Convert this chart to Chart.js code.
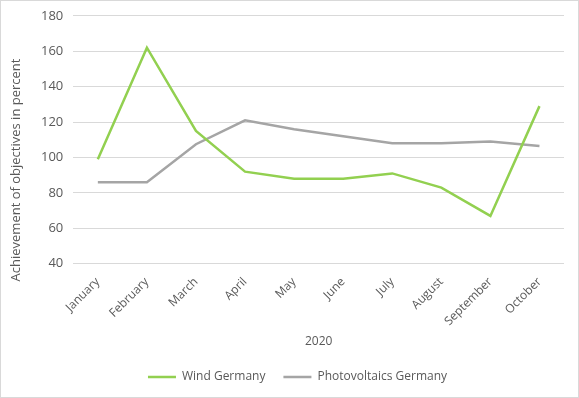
<!DOCTYPE html>
<html>
<head>
<meta charset="utf-8">
<script src="https://cdn.jsdelivr.net/npm/chart.js@4/dist/chart.umd.min.js"></script>
<style>
  html, body { margin: 0; padding: 0; background: #fff; }
  #wrap { position: absolute; left: 0; top: 0; width: 577px; height: 396px; border: 1px solid #d9d9d9; overflow: hidden; }
  #inner { position: absolute; left: 0; top: -3px; width: 577px; height: 399px; }
</style>
</head>
<body>
<div id="wrap"><div id="inner"><canvas id="myChart"></canvas></div></div>
<script>
const months = ['January', 'February', 'March', 'April', 'May', 'June', 'July', 'August', 'September', 'October'];
const windGermany = [99, 162, 115, 92, 88, 88, 91, 83, 67, 129];
const pvGermany = [86, 86, 107.5, 121, 116, 112, 108, 108, 109, 106.5];
const yTicks = [40, 60, 80, 100, 120, 140, 160, 180];
const yTitle = 'Achievement of objectives in percent';

const textColor = '#595959';
Chart.defaults.font.family = '"Open Sans", sans-serif';
Chart.defaults.color = textColor;

// y title sits a bit lower than the plot centre in the original, so draw it by hand
const yTitlePlugin = {
  id: 'yTitle',
  afterDraw(chart) {
    const c = chart.ctx;
    c.save();
    c.translate(15, 172);
    c.rotate(-Math.PI / 2);
    c.font = '13px "Open Sans", sans-serif';
    c.fillStyle = textColor;
    c.textAlign = 'center';
    c.textBaseline = 'middle';
    c.fillText(yTitle, 0, 0);
    c.restore();
  }
};

const ctx = document.getElementById('myChart').getContext('2d');
new Chart(ctx, {
  type: 'line',
  data: {
    labels: months,
    datasets: [{
      label: 'Wind Germany',
      data: windGermany,
      borderColor: '#92d050',
      backgroundColor: '#92d050',
      borderWidth: 2.5,
      pointRadius: 0,
      tension: 0
    }, {
      label: 'Photovoltaics Germany',
      data: pvGermany,
      borderColor: '#a5a5a5',
      backgroundColor: '#a5a5a5',
      borderWidth: 2.5,
      pointRadius: 0,
      tension: 0
    }]
  },
  plugins: [yTitlePlugin],
  options: {
    responsive: true,
    maintainAspectRatio: false,
    animation: false,
    layout: { padding: { left: 30, right: 14, top: 0, bottom: 4 } },
    plugins: {
      tooltip: { enabled: false },
      legend: {
        position: 'bottom',
        labels: {
          boxWidth: 28,
          boxHeight: 0,
          font: { size: 12 },
          color: textColor,
          padding: 18
        }
      }
    },
    scales: {
      x: {
        offset: true,
        grid: { display: false },
        border: { display: false },
        ticks: { minRotation: 45, maxRotation: 45, font: { size: 12 }, color: textColor },
        title: { display: true, text: '2020', font: { size: 12 }, color: textColor, padding: { top: 3 } }
      },
      y: {
        min: 40,
        max: 180,
        afterBuildTicks: axis => { axis.ticks = yTicks.map(v => ({ value: v })); },
        grid: { color: '#d9d9d9', drawTicks: false },
        border: { display: false },
        ticks: { font: { size: 13 }, color: textColor, padding: 10 }
      }
    }
  }
});
</script>
</body>
</html>
